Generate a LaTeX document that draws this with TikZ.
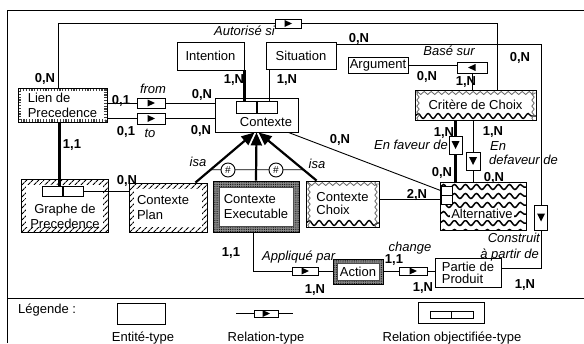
\documentclass[tikz,border=0pt]{standalone}
\usepackage{fontspec}
\setmainfont{Liberation Sans}
\usetikzlibrary{arrows.meta,patterns,patterns.meta,decorations.pathmorphing,calc}
\tikzset{
 f13/.style={font=\fontsize{13}{15}\selectfont},
 ent/.style={draw, line width=0.9pt, inner sep=0pt, align=center, f13},
 card/.style={font=\fontsize{13}{15}\selectfont\bfseries, inner sep=0pt, text height=9pt, text depth=2pt},
 ital/.style={font=\fontsize{13}{15}\selectfont\itshape, inner sep=0pt, text height=9pt, text depth=2.5pt},
 txt/.style={f13, inner sep=0pt, text height=9pt, text depth=2.5pt},
 ln/.style={line width=0.9pt},
 thk/.style={line width=2.6pt},
 isa/.style={line width=2.2pt, -{Triangle[length=13pt,width=11pt]}},
 tickbox/.style={ent, path picture={\draw[black!75, line width=2.6pt, dash pattern=on 1.2pt off 1.6pt] ([shift={(1.8pt,1.8pt)}]path picture bounding box.south west) rectangle ([shift={(-1.8pt,-1.8pt)}]path picture bounding box.north east);}},
 hatchbox/.style={ent, path picture={
  \fill[pattern={Lines[angle=45,distance=4pt,line width=1.1pt]}] (path picture bounding box.south west) rectangle (path picture bounding box.north east);
  \fill[white] ([shift={(5pt,5pt)}]path picture bounding box.south west) rectangle ([shift={(-5pt,-6pt)}]path picture bounding box.north east);}},
 dotbox/.style={ent, path picture={
  \fill[black!45] (path picture bounding box.south west) rectangle (path picture bounding box.north east);
  \fill[pattern={Dots[distance=1.8pt,radius=0.5pt]}, pattern color=black] (path picture bounding box.south west) rectangle (path picture bounding box.north east);
  \draw[black!70, line width=0.5pt, fill=white] ([shift={(#1,#1)}]path picture bounding box.south west) rectangle ([shift={(-#1,-#1)}]path picture bounding box.north east);}},
 wavebox/.style={ent, path picture={
  \draw[black!60, line width=0.8pt, decorate, decoration={snake,segment length=7pt,amplitude=1.5pt}] ([yshift=-3pt]path picture bounding box.north west) -- ([yshift=-3pt]path picture bounding box.north east);
  \draw[line width=1.4pt, decorate, decoration={snake,segment length=10pt,amplitude=2.5pt}] ([yshift=4pt]path picture bounding box.south west) -- ([yshift=4pt]path picture bounding box.south east);
  \draw[black!60, line width=0.8pt, decorate, decoration={snake,segment length=6pt,amplitude=1.2pt}] ([xshift=3pt]path picture bounding box.south west) -- ([xshift=3pt]path picture bounding box.north west);
  \draw[black!60, line width=0.8pt, decorate, decoration={snake,segment length=6pt,amplitude=1.2pt}] ([xshift=-3pt]path picture bounding box.south east) -- ([xshift=-3pt]path picture bounding box.north east);}},
 altbox/.style={ent, path picture={\foreach \k in {0,...,5}{\draw[line width=1.5pt, decorate, decoration={snake,segment length=11pt,amplitude=2.5pt}] ([yshift={-5pt-9pt*\k}]path picture bounding box.north west) -- ([yshift={-5pt-9pt*\k}]path picture bounding box.north east);}}},
 rel/.style={draw, fill=white, line width=0.9pt, inner sep=0pt},
 relR/.style={rel, path picture={\fill[black] ([shift={(-3.5pt,3.5pt)}]path picture bounding box.center) -- ++(7.5pt,-3.5pt) -- ++(-7.5pt,-3.5pt) -- cycle;}},
 relL/.style={rel, path picture={\fill[black] ([shift={(3.5pt,3.5pt)}]path picture bounding box.center) -- ++(-7.5pt,-3.5pt) -- ++(7.5pt,-3.5pt) -- cycle;}},
 relD/.style={rel, path picture={\fill[black] ([shift={(-4pt,4pt)}]path picture bounding box.center) -- ++(8pt,0pt) -- ++(-4pt,-8pt) -- cycle;}},
 hashc/.style={draw, circle, line width=0.9pt, fill=white, minimum size=14pt, inner sep=0pt, font=\fontsize{10}{10}\selectfont},
}
\begin{document}
\begin{tikzpicture}[x=1pt,y=-1pt]
\useasboundingbox (0,0) rectangle (584,343);
\fill[white] (0,0) rectangle (584,343);
% frame
\draw[ln] (7,343) -- (7,10) -- (584,10);
\draw[ln] (7,298) -- (584,298);

% entities
\node[tickbox, minimum width=89pt, minimum height=34pt, align=left] (lien) at (62.5,105) {Lien de\\Precedence};
\node[hatchbox, minimum width=87pt, minimum height=53pt] (graphe) at (64.5,205.5) {};
\node[f13, align=center, inner sep=0pt] (graphetxt) at (65,216.5) {Graphe de\\Precedence};
\node[rel, minimum width=21pt, minimum height=10pt] (gL) at (52.5,191) {};
\node[rel, minimum width=20pt, minimum height=10pt] (gR) at (73,191) {};
\node[hatchbox, minimum width=78pt, minimum height=49pt, align=left, text width=62pt] (plan) at (168,207.5) {Contexte\\Plan};
\node[dotbox=6pt, minimum width=86pt, minimum height=51pt, align=left] (exec) at (256,206.5) {Contexte\\Executable};
\node[wavebox, minimum width=73pt, minimum height=46pt, align=left] (choix) at (342.5,204) {Contexte\\[-2pt]Choix};
\node[altbox, minimum width=86pt, minimum height=48pt] (alt) at (483,206) {};
\node[f13, fill=white, inner sep=1pt] (alttxt) at (482,214) {Alternative};
\node[rel, minimum width=11pt, minimum height=9pt] (altr1) at (446.5,190.5) {};
\node[rel, minimum width=11pt, minimum height=9pt] (altr2) at (446.5,199.5) {};
\node[wavebox, minimum width=121pt, minimum height=30pt] (crit) at (475.5,105) {Critère de Choix};
\node[ent, minimum width=60pt, minimum height=16pt] (argument) at (378,65.5) {Argument};
\node[ent, minimum width=67pt, minimum height=28pt] (intention) at (210.5,56) {Intention};
\node[ent, minimum width=70pt, minimum height=27pt] (situation) at (301,55.5) {Situation};
\node[ent, minimum width=83pt, minimum height=34pt] (contexte) at (256.5,115) {};
\node[f13, inner sep=0pt] (ctxtxt) at (266,122) {Contexte};
\node[rel, minimum width=21pt, minimum height=12pt] (cL) at (246.5,107) {};
\node[rel, minimum width=20pt, minimum height=12pt] (cR) at (267,107) {};
\node[dotbox=4pt, minimum width=50pt, minimum height=25pt] (action) at (358,271.5) {Action};
\node[ent, minimum width=66pt, minimum height=29pt, align=left] (partie) at (468,272.5) {Partie de\\[-3pt]Produit};

% relations
\node[relR, minimum width=26pt, minimum height=9pt] (autor) at (288,23.5) {};
\node[relR, minimum width=28pt, minimum height=10pt] (frm) at (151,103) {};
\node[relR, minimum width=28pt, minimum height=11pt] (tor) at (151,118.5) {};
\node[relL, minimum width=30pt, minimum height=11pt] (base) at (472,67.5) {};
\node[relD, minimum width=13pt, minimum height=18pt] (fav) at (455.5,145) {};
\node[relD, minimum width=14pt, minimum height=18pt] (defav) at (473,161) {};
\node[relD, minimum width=13pt, minimum height=25pt] (construit) at (541,217.5) {};
\node[relR, minimum width=26pt, minimum height=8pt] (app) at (305,271) {};
\node[relR, minimum width=28pt, minimum height=8pt] (chg) at (413,271) {};

% connectors
\draw[ln] ([xshift=-4.5pt]lien.north) |- (autor.west);
\draw[ln] (autor.east) -| ([xshift=22pt]crit.north);
\draw[ln] ([yshift=-3pt]situation.north east) -| (construit.north);
\draw[ln] (construit.south) |- ([yshift=4pt]partie.east);
\draw[ln] (lien.east |- frm.west) -- (frm.west);
\draw[ln] (frm.east) -- (frm.east -| contexte.west);
\draw[ln] (lien.east |- tor.west) -- (tor.west);
\draw[ln] (tor.east) -- (tor.east -| contexte.west);
\draw[thk] (intention.south east) -- (intention.south east |- cL.north);
\draw[ln] ([xshift=4pt]situation.south west) -- ([xshift=4pt]situation.south west |- cR.north);
\draw[line width=2pt] (cL.north east) -- (cL.south east);
\draw[thk] ([xshift=-3pt]lien.south) -- ([xshift=-3pt]lien.south |- gL.north);
\draw[line width=2pt] (gL.north east) -- (gL.south east);
\draw[ln] (gR.east) -- (gR.east -| plan.west);
\draw[ln] (argument.east) -- (argument.east -| base.west);
\draw[ln] (base.south) -- (base.south |- crit.north);
\draw[thk] (fav.north |- crit.south) -- (fav.north);
\draw[thk] (fav.south) -- (fav.south |- alt.north);
\draw[ln] (defav.north |- crit.south) -- (defav.north);
\draw[ln] (defav.south) -- (defav.south |- alt.north);
\draw[ln] ([xshift=-10pt]contexte.south east) -- (altr1.west);
\draw[ln] (altr2.west -| choix.east) -- (altr2.west);
\draw[ln] ([xshift=-3pt]exec.south) |- (app.west);
\draw[ln] (app.east) -- (app.east -| action.west);
\draw[ln] (action.east |- chg.west) -- (chg.west);
\draw[ln] (chg.east) -- (chg.east -| partie.west);

% isa
\coordinate (isaA) at ([xshift=-12pt]plan.north east);
\coordinate (isaC) at ([xshift=11pt]choix.north west);
\coordinate (tipL) at ([xshift=-2pt]contexte.south);
\coordinate (tipR) at ([xshift=2pt]contexte.south);
\draw[isa] (isaA) -- (tipL);
\draw[isa] (exec.north) -- (contexte.south);
\draw[isa] (isaC) -- (tipR);
\coordinate (hl) at ($(isaA)!0.255!(tipL)$);
\coordinate (hr) at ($(isaC)!0.2245!(tipR)$);
\draw[ln] (hl) -- (hr);
\node[hashc] (h1) at (228,170) {\#};
\node[hashc] (h2) at (276,170) {\#};

% labels
\node[card] (c1) at (45,79) {0,N};
\node[card] (c2) at (121,101) {0,1};
\node[card] (c3) at (202,95) {0,N};
\node[card] (c4) at (126,132) {0,1};
\node[card] (c5) at (201,131) {0,N};
\node[card] (c6) at (234,80) {1,N};
\node[card] (c7) at (287,80) {1,N};
\node[card] (c8) at (359,39) {0,N};
\node[card] (c9) at (520,58) {0,N};
\node[card] (c10) at (427,77) {0,N};
\node[card] (c11) at (466,82) {1,N};
\node[card] (c12) at (72,145) {1,1};
\node[card] (c13) at (127,181) {0,N};
\node[card] (c14) at (340,140) {0,N};
\node[card] (c15) at (444,133) {1,N};
\node[card] (c16) at (493,132) {1,N};
\node[card] (c17) at (442,173) {0,N};
\node[card] (c18) at (494,178) {0,N};
\node[card] (c19) at (417,195) {2,N};
\node[card] (c20) at (231,253) {1,1};
\node[card] (c21) at (315,290) {1,N};
\node[card] (c22) at (394,260) {1,1};
\node[card] (c23) at (423,288) {1,N};
\node[card] (c24) at (525,285) {1,N};

\node[ital, anchor=east] (l1) at (275,32) {Autorisé si};
\node[ital] (l2) at (153,90) {from};
\node[ital] (l3) at (150,134) {to};
\node[ital] (l4) at (449,52) {Basé sur};
\node[ital] (l5) at (198,163) {isa};
\node[ital] (l6) at (317,165) {isa};
\node[ital, anchor=east] (l7) at (448,146) {En faveur de};
\node[ital, anchor=west] (l8) at (490,147) {En};
\node[ital, anchor=west] (l9) at (489,161) {defaveur de};
\node[ital, anchor=east] (l10) at (540,239) {Construit};
\node[ital, anchor=east] (l11) at (539,255) {à partir de};
\node[ital, anchor=west] (l12) at (262,257) {Appliqué par};
\node[ital] (l13) at (410,248) {change};

% legend
\node[txt, anchor=west] (leg) at (18,310) {Légende :};
\node[ent, minimum width=48pt, minimum height=21pt] (legent) at (141,313.5) {};
\node[txt] (legenttxt) at (143,338) {Entité-type};
\node[relR, minimum width=24pt, minimum height=7pt] (legrel) at (266,313.5) {};
\coordinate (lrA) at (236,313.5);
\coordinate (lrB) at (293,313.5);
\draw[ln] (lrA) -- (legrel.west);
\draw[ln] (legrel.east) -- (lrB);
\node[txt] (legreltxt) at (266,338) {Relation-type};
\node[ent, minimum width=66pt, minimum height=21pt] (legobj) at (451,312.5) {};
\node[rel, minimum width=21pt, minimum height=7pt] (legoL) at (440.5,314.5) {};
\node[rel, minimum width=22pt, minimum height=7pt] (legoR) at (462,314.5) {};
\node[txt] (legobjtxt) at (452,338) {Relation objectifiée-type};
\end{tikzpicture}
\end{document}
